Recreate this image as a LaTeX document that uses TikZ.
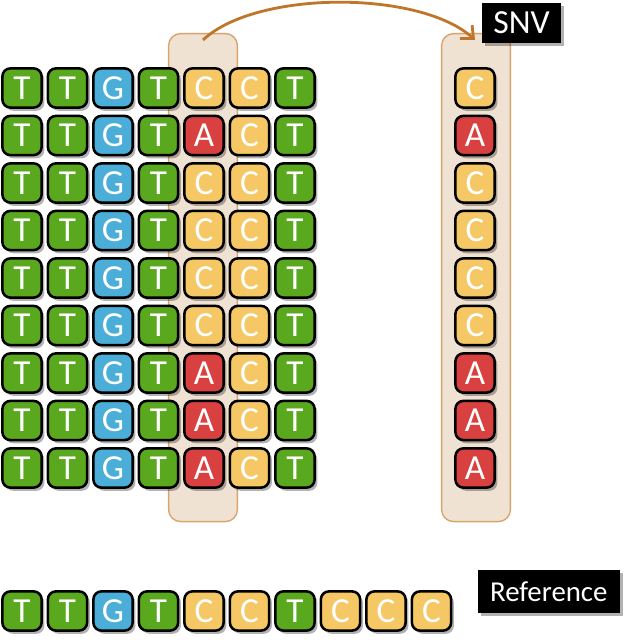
\documentclass[tikz,border=0pt]{standalone}
\usepackage{fontspec}
\setmainfont{Carlito}
\usepackage{tikz}
\usetikzlibrary{positioning,arrows.meta,shadows}

\definecolor{ntgreen}{HTML}{5AA81E}
\definecolor{ntblue}{HTML}{4AAED8}
\definecolor{ntyellow}{HTML}{F5C865}
\definecolor{ntred}{HTML}{D94040}
\definecolor{hltan}{HTML}{F0E2D2}
\definecolor{hledge}{HTML}{D9A36E}
\definecolor{arrowbrown}{HTML}{C0762A}

\begin{document}
\begin{tikzpicture}[
    base/.style={
        draw=black,
        line width=1.8pt,
        rounded corners=0.2cm,
        minimum size=0.98cm,
        inner sep=0pt,
        text=white,
        font=\fontsize{25}{27}\selectfont,
        drop shadow={shadow xshift=0.07cm, shadow yshift=-0.08cm, fill=black, opacity=0.3}
    },
    nucT/.style={base, fill=ntgreen},
    nucG/.style={base, fill=ntblue},
    nucC/.style={base, fill=ntyellow},
    nucA/.style={base, fill=ntred},
    highlight/.style={
        draw=hledge,
        line width=1pt,
        fill=hltan,
        rounded corners=0.3cm,
        minimum width=1.72cm,
        minimum height=12.2cm
    },
    tag/.style={
        fill=black,
        text=white,
        inner sep=0pt,
        drop shadow={shadow xshift=0.07cm, shadow yshift=-0.07cm, fill=black, opacity=0.3}
    },
    arrow/.style={-{Straight Barb[length=0.25cm,width=0.45cm]}, draw=arrowbrown, line width=2pt}
]
\useasboundingbox (0,0) rectangle (16,16);

% columns that carry the variant
\node[highlight] (hlgrid) at (5.075,9.06) {};
\node[highlight] (hlsnv) at (11.9,9.06) {};

% reads
\foreach \m [count=\i] in {C,A,C,C,C,C,A,A,A} {
  \foreach \b [count=\j] in {T,T,G,T,\m,C,T} {
    \node[nuc\b] (r\i-\j) at ({0.55+(\j-1)*1.1375},{13.8-(\i-1)*1.1875}) {\b};
  }
  \node[nuc\m] (snv\i) at (11.875,{13.8-(\i-1)*1.1875}) {\m};
}

% reference sequence
\foreach \b [count=\j] in {T,T,G,T,C,C,T,C,C,C} {
  \node[nuc\b] (ref\j) at ({0.55+(\j-1)*1.1375},0.725) {\b};
}

\node[tag, minimum width=1.97cm, minimum height=1.0cm,
      font=\fontsize{24}{26}\selectfont] (snvtag) at (13.04,15.43) {SNV};
\node[tag, minimum width=3.55cm, minimum height=1.07cm,
      font=\fontsize{20.5}{23}\selectfont] (reftag) at (13.72,1.21) {Reference};

\coordinate (from) at (5.075,15.0);
\coordinate (to) at (11.875,15.0);
\draw[arrow] (from) .. controls (6.4,16.25) and (10.5,16.25) .. (to);

\end{tikzpicture}
\end{document}
